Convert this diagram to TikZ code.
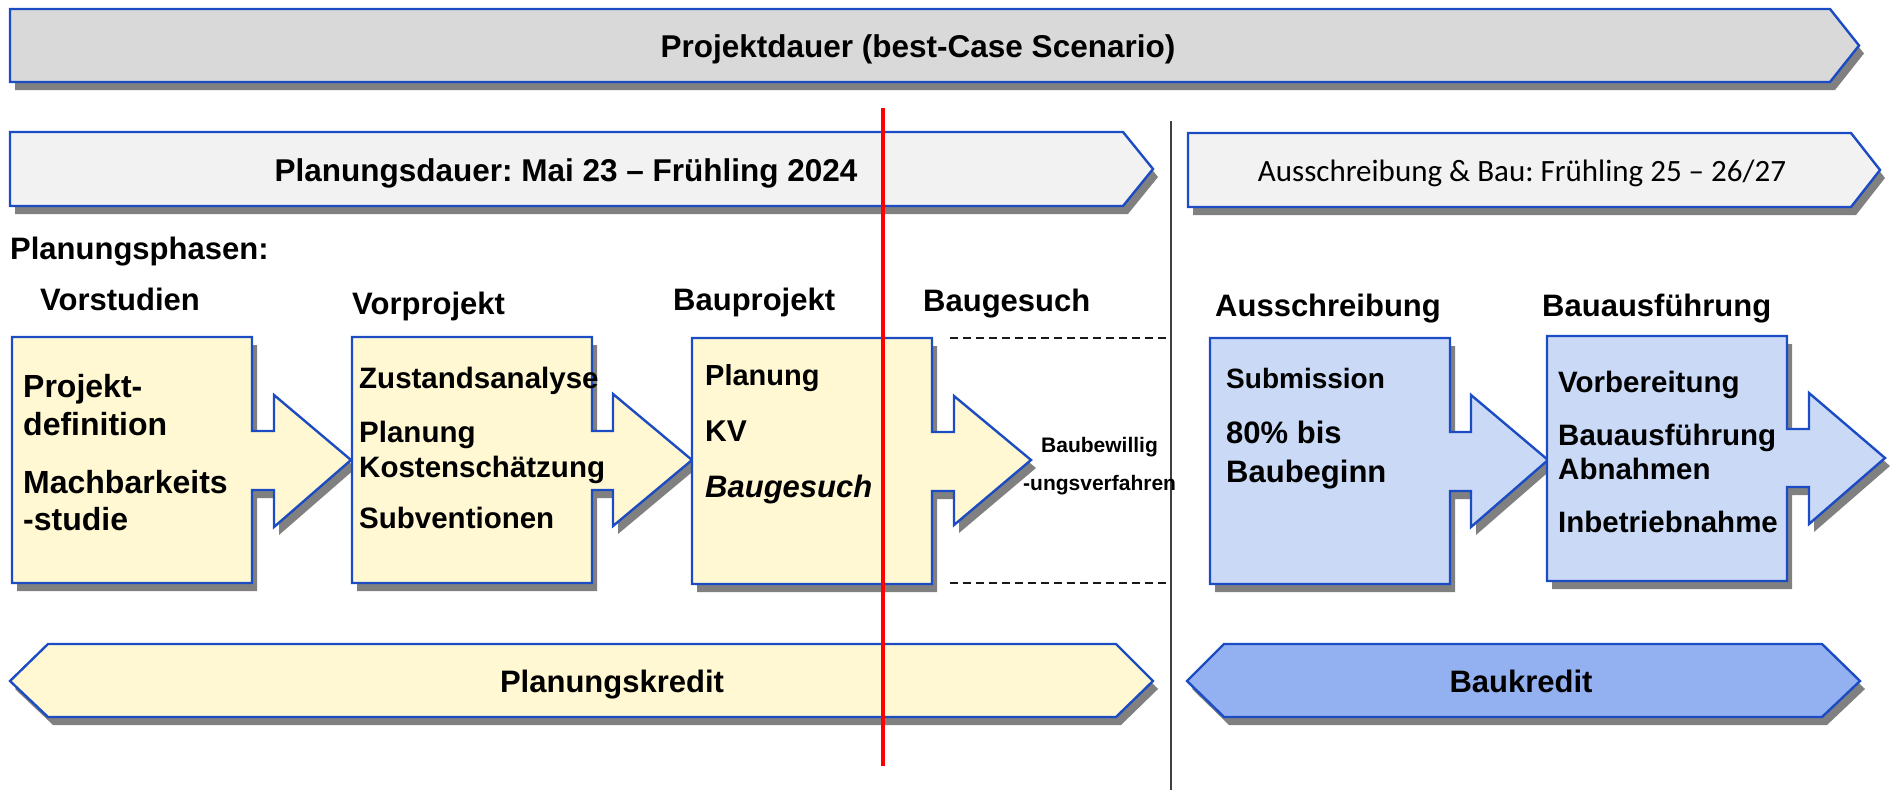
\documentclass[tikz,border=0pt]{standalone}
\usepackage{fontspec}
\setmainfont{Liberation Sans}
\newfontfamily\calib{Carlito}
\usetikzlibrary{shadows}
\frenchspacing
\definecolor{bordblue}{RGB}{28,76,196}
\definecolor{topgray}{RGB}{217,217,217}
\definecolor{lightgray2}{RGB}{242,242,242}
\definecolor{cream}{RGB}{255,248,210}
\definecolor{lightblue}{RGB}{201,217,246}
\definecolor{midblue}{RGB}{147,177,241}
\definecolor{shadowgray}{RGB}{128,128,128}
\tikzset{
  shp/.style={draw=bordblue, line width=2.4pt, line join=miter,
    drop shadow={shadow xshift=5pt, shadow yshift=-8pt, fill=shadowgray, opacity=1}},
  lbl/.style={inner sep=0pt, anchor=base west, font=\bfseries\fontsize{30}{36}\selectfont},
  ttl/.style={inner sep=0pt, anchor=base, font=\bfseries\fontsize{31.5}{38}\selectfont},
  hd/.style={inner sep=0pt, anchor=base west, font=\bfseries\fontsize{31}{37}\selectfont},
}
\begin{document}
\begin{tikzpicture}[x=1pt,y=-1pt]
\useasboundingbox (0,0) rectangle (1892,790);
% banners
\draw[shp, fill=topgray] (10,9) -- (1830,9) -- (1859,45.5) -- (1830,82) -- (10,82) -- cycle;
\node[ttl] (t1) at (918,57) {Projektdauer (best-Case Scenario)};
\draw[shp, fill=lightgray2] (10,132) -- (1123,132) -- (1153,169) -- (1123,206) -- (10,206) -- cycle;
\node[ttl, font=\bfseries\fontsize{31.5}{38}\selectfont] (t2) at (566,181) {Planungsdauer: Mai 23 – Frühling 2024};
\draw[shp, fill=lightgray2] (1188,133) -- (1851,133) -- (1880,170) -- (1851,207) -- (1188,207) -- cycle;
\node[inner sep=0pt, anchor=base, font=\calib\fontsize{31}{37}\selectfont] (t3) at (1522,181) {Ausschreibung \& Bau: Frühling 25 – 26/27};
% vertical separator
\coordinate (vt) at (1171,121);
\coordinate (vb) at (1171,790);
\draw[line width=1.5pt, black!75] (vt) -- (vb);
% headings
\node[hd] (ph) at (10,259) {Planungsphasen:};
\node[hd] (h1) at (40,310) {Vorstudien};
\node[hd] (h2) at (352,314) {Vorprojekt};
\node[hd] (h3) at (673,310) {Bauprojekt};
\node[hd] (h4) at (923,311) {Baugesuch};
\node[hd] (h5) at (1215,316) {Ausschreibung};
\node[hd] (h6) at (1542,316) {Bauausführung};
% dashed lines
\coordinate (d1a) at (950,338); \coordinate (d1b) at (1171,338);
\coordinate (d2a) at (950,583); \coordinate (d2b) at (1171,583);
\draw[line width=2.2pt, dash pattern=on 8pt off 5pt, black!90] (d1a) -- (d1b);
\draw[line width=2.2pt, dash pattern=on 8pt off 5pt, black!90] (d2a) -- (d2b);
% box 1
\draw[shp, fill=cream] (12,337) -- (252,337) -- (252,431) -- (274,431) -- (274,395) -- (351,460) -- (274,527) -- (274,490) -- (252,490) -- (252,583) -- (12,583) -- cycle;
% box 2
\draw[shp, fill=cream] (352,337) -- (592,337) -- (592,431) -- (613,431) -- (613,394) -- (692,460) -- (613,526) -- (613,490) -- (592,490) -- (592,583) -- (352,583) -- cycle;
% box 3
\draw[shp, fill=cream] (692,338) -- (932,338) -- (932,432) -- (954,432) -- (954,396) -- (1031,460) -- (954,525) -- (954,491) -- (932,491) -- (932,584) -- (692,584) -- cycle;
% box 4
\draw[shp, fill=lightblue] (1210,338) -- (1450,338) -- (1450,432) -- (1471,432) -- (1471,395) -- (1548,460) -- (1471,527) -- (1471,491) -- (1450,491) -- (1450,584) -- (1210,584) -- cycle;
% box 5
\draw[shp, fill=lightblue] (1547,336) -- (1787,336) -- (1787,429) -- (1809,429) -- (1809,393) -- (1885,458) -- (1809,524) -- (1809,487) -- (1787,487) -- (1787,581) -- (1547,581) -- cycle;
% box texts
\node[lbl, font=\bfseries\fontsize{32}{38}\selectfont] (b1a) at (23,397) {Projekt-};
\node[lbl, font=\bfseries\fontsize{32}{38}\selectfont] (b1b) at (23,435) {definition};
\node[lbl, font=\bfseries\fontsize{32}{38}\selectfont] (b1c) at (23,493) {Machbarkeits};
\node[lbl, font=\bfseries\fontsize{32}{38}\selectfont] (b1d) at (23,530) {-studie};
\node[lbl, font=\bfseries\fontsize{29.5}{35}\selectfont] (b2a) at (359,388) {Zustandsanalyse};
\node[lbl, font=\bfseries\fontsize{29.5}{35}\selectfont] (b2b) at (359,442) {Planung};
\node[lbl, font=\bfseries\fontsize{29.5}{35}\selectfont] (b2c) at (359,477) {Kostenschätzung};
\node[lbl, font=\bfseries\fontsize{29.5}{35}\selectfont] (b2d) at (359,528) {Subventionen};
\node[lbl, font=\bfseries\fontsize{29}{35}\selectfont] (b3a) at (705,385) {Planung};
\node[lbl, font=\bfseries\fontsize{30}{36}\selectfont] (b3b) at (705,441) {KV};
\node[lbl, font=\bfseries\itshape\fontsize{31}{37}\selectfont] (b3c) at (705,497) {Baugesuch};
\node[lbl, font=\bfseries\fontsize{21}{25}\selectfont] (bw1) at (1041,452) {Baubewillig};
\node[lbl, font=\bfseries\fontsize{21}{25}\selectfont] (bw2) at (1023,490) {-ungsverfahren};
\node[lbl, font=\bfseries\fontsize{28}{34}\selectfont] (b4a) at (1226,388) {Submission};
\node[lbl, font=\bfseries\fontsize{31}{37}\selectfont] (b4b) at (1226,443) {80\% bis};
\node[lbl, font=\bfseries\fontsize{31}{37}\selectfont] (b4c) at (1226,482) {Baubeginn};
\node[lbl, font=\bfseries\fontsize{29.5}{35}\selectfont] (b5a) at (1558,392) {Vorbereitung};
\node[lbl, font=\bfseries\fontsize{29.5}{35}\selectfont] (b5b) at (1558,445) {Bauausführung};
\node[lbl, font=\bfseries\fontsize{29.5}{35}\selectfont] (b5c) at (1558,479) {Abnahmen};
\node[lbl, font=\bfseries\fontsize{29.5}{35}\selectfont] (b5d) at (1558,532) {Inbetriebnahme};
% credit banners
\draw[shp, fill=cream] (10,681) -- (48,644) -- (1116,644) -- (1153,681) -- (1116,717) -- (48,717) -- cycle;
\node[ttl, font=\bfseries\fontsize{31}{37}\selectfont] (k1) at (612,692) {Planungskredit};
\draw[shp, fill=midblue] (1187,681) -- (1224,644) -- (1822,644) -- (1860,681) -- (1822,717) -- (1224,717) -- cycle;
\node[ttl, font=\bfseries\fontsize{31}{37}\selectfont] (k2) at (1521,692) {Baukredit};
% red line
\coordinate (ra) at (883,108);
\coordinate (rb) at (883,766);
\draw[line width=4pt, red] (ra) -- (rb);
\end{tikzpicture}
\end{document}
